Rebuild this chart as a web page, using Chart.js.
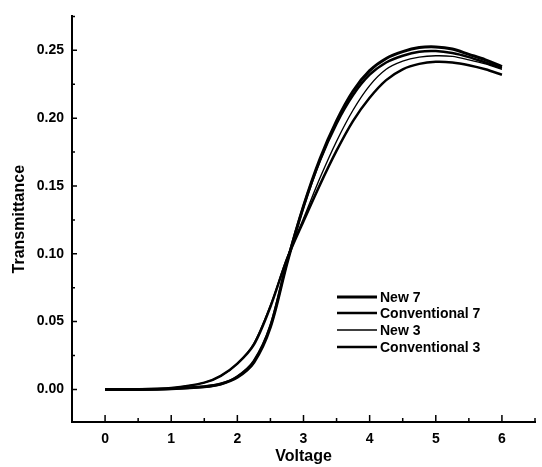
<!DOCTYPE html>
<html>
<head>
<meta charset="utf-8">
<script src="https://cdn.jsdelivr.net/npm/chart.js@4.4.0/dist/chart.umd.min.js"></script>
<style>
  html, body { margin: 0; padding: 0; background: #fff; }
  #wrap { width: 542px; height: 467px; position: relative; }
</style>
</head>
<body>
<div id="wrap"><canvas id="chart"></canvas></div>
<script>
// data
const voltage = [0, 0.5, 1, 1.5, 1.75, 2, 2.25, 2.5, 2.75, 3, 3.25, 3.5, 3.75, 4, 4.25, 4.5, 4.75, 5, 5.25, 5.5, 5.75, 6];
const new7 = [0, 0, 0.0005, 0.002, 0.004, 0.009, 0.020, 0.046, 0.093, 0.135, 0.170, 0.198, 0.220, 0.235, 0.244, 0.249, 0.252, 0.2525, 0.251, 0.247, 0.243, 0.238];
const conv7 = [0, 0, 0.0005, 0.002, 0.004, 0.0095, 0.021, 0.047, 0.094, 0.135, 0.169, 0.196, 0.217, 0.232, 0.241, 0.246, 0.249, 0.2495, 0.248, 0.245, 0.241, 0.237];
const new3 = [0, 0, 0.001, 0.005, 0.010, 0.019, 0.034, 0.062, 0.097, 0.126, 0.156, 0.183, 0.206, 0.224, 0.236, 0.242, 0.245, 0.246, 0.2455, 0.243, 0.240, 0.236];
const conv3 = [0, 0, 0.001, 0.005, 0.010, 0.019, 0.033, 0.061, 0.096, 0.124, 0.151, 0.176, 0.198, 0.215, 0.228, 0.236, 0.240, 0.2415, 0.241, 0.239, 0.236, 0.232];

const seriesNames = ["New 7", "Conventional 7", "New 3", "Conventional 3"];
const xTicks = [0, 1, 2, 3, 4, 5, 6];
const yTicks = [0, 0.05, 0.10, 0.15, 0.20, 0.25];

const FONT = "'Liberation Sans', Arial, Helvetica, sans-serif";

function toPoints(values) {
  return voltage.map((v, i) => ({ x: v, y: values[i] }));
}

// inward tick marks (major + minor) like the original plot
const tickMarks = {
  id: "tickMarks",
  afterDraw(chart) {
    const ctx = chart.ctx;
    const xs = chart.scales.x;
    const ys = chart.scales.y;
    const area = chart.chartArea;
    ctx.save();
    ctx.strokeStyle = "#000";
    ctx.lineWidth = 1.5;
    ctx.beginPath();
    for (let v = xs.min; v <= xs.max + 1e-9; v += 0.5) {
      const px = xs.getPixelForValue(v);
      if (px <= area.left + 1) continue;
      const major = xTicks.includes(Math.round(v * 100) / 100);
      ctx.moveTo(px, area.bottom);
      ctx.lineTo(px, area.bottom - (major ? 7 : 4));
    }
    for (let v = -0.025; v <= ys.max + 1e-9; v += 0.025) {
      const py = ys.getPixelForValue(v);
      if (py >= area.bottom - 1 || py < area.top) continue;
      const major = Math.abs(Math.round(v / 0.05) * 0.05 - v) < 1e-6;
      ctx.moveTo(area.left, py);
      ctx.lineTo(area.left + (major ? 5 : 3), py);
    }
    ctx.stroke();
    ctx.restore();
  }
};

// legend drawn inside the plot, lower right
const insideLegend = {
  id: "insideLegend",
  afterDraw(chart) {
    const ctx = chart.ctx;
    const x0 = 337, x1 = 377, tx = 380;
    const rows = [297, 313, 330, 347];
    ctx.save();
    ctx.font = "bold 14px " + FONT;
    ctx.fillStyle = "#000";
    ctx.textBaseline = "middle";
    chart.data.datasets.forEach((ds, i) => {
      ctx.strokeStyle = ds.borderColor;
      ctx.lineWidth = ds.borderWidth;
      ctx.beginPath();
      ctx.moveTo(x0, rows[i]);
      ctx.lineTo(x1, rows[i]);
      ctx.stroke();
      ctx.fillText(ds.label, tx, rows[i] + 1);
    });
    ctx.restore();
  }
};

const widths = [3, 2.5, 1.4, 2.5];
const seriesValues = [new7, conv7, new3, conv3];

new Chart(document.getElementById("chart"), {
  type: "line",
  data: {
    datasets: seriesValues.map((vals, i) => ({
      label: seriesNames[i],
      data: toPoints(vals),
      borderColor: "#000",
      borderWidth: widths[i],
      pointRadius: 0,
      fill: false,
      tension: 0.3
    }))
  },
  options: {
    responsive: true,
    maintainAspectRatio: false,
    animation: false,
    layout: { padding: { left: 0, right: 7, top: 7, bottom: 0 } },
    plugins: {
      legend: { display: false },
      tooltip: { enabled: false }
    },
    scales: {
      x: {
        type: "linear",
        min: -0.5,
        max: 6.5,
        afterBuildTicks: (s) => { s.ticks = xTicks.map(v => ({ value: v })); },
        afterFit: (s) => { s.height = 45; },
        grid: { display: false, drawTicks: false },
        border: { display: true, color: "#000", width: 2 },
        ticks: {
          color: "#000",
          padding: 9,
          font: { family: FONT, size: 14, weight: "bold" },
          callback: (v) => String(v)
        },
        title: {
          display: true,
          text: "Voltage",
          color: "#000",
          font: { family: FONT, size: 16, weight: "bold" },
          padding: { top: 0, bottom: 1 }
        }
      },
      y: {
        type: "linear",
        min: -0.024,
        max: 0.275,
        afterBuildTicks: (s) => { s.ticks = yTicks.map(v => ({ value: v })); },
        afterFit: (s) => { s.width = 72; },
        grid: { display: false, drawTicks: false },
        border: { display: true, color: "#000", width: 2 },
        ticks: {
          color: "#000",
          padding: 8,
          font: { family: FONT, size: 14, weight: "bold" },
          callback: (v) => Number(v).toFixed(2)
        },
        title: {
          display: true,
          text: "Transmittance",
          color: "#000",
          font: { family: FONT, size: 16, weight: "bold" },
          padding: { top: 10, bottom: 0 }
        }
      }
    }
  },
  plugins: [tickMarks, insideLegend]
});
</script>
</body>
</html>
